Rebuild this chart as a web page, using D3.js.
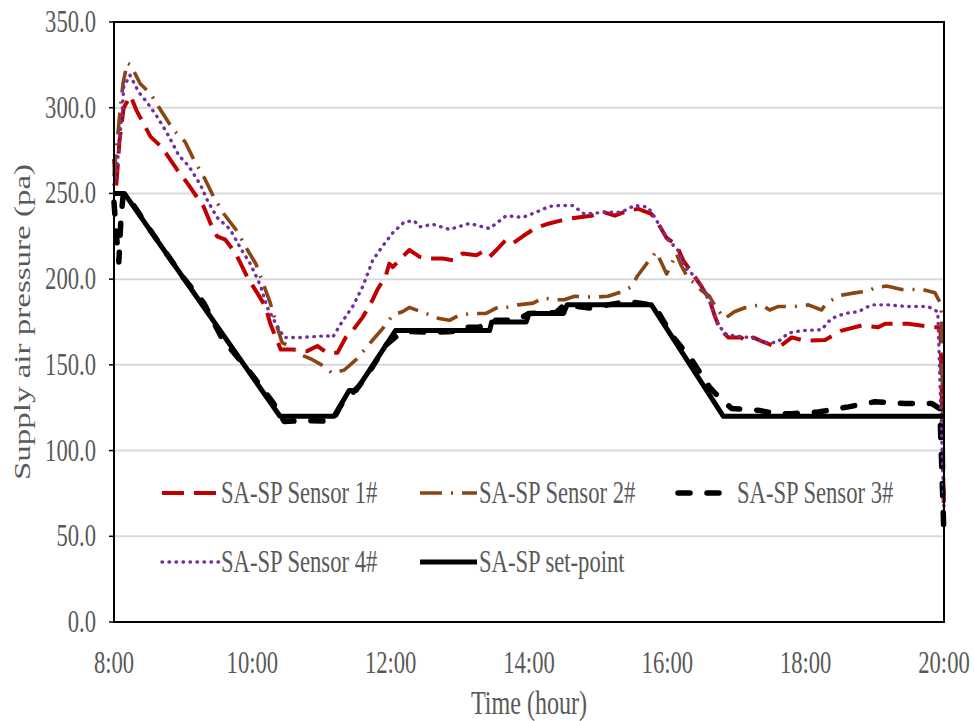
<!DOCTYPE html>
<html>
<head>
<meta charset="utf-8">
<script src="https://cdn.jsdelivr.net/npm/d3@7"></script>
<style>
  html, body { margin: 0; padding: 0; background: #ffffff; }
  svg { display: block; }
</style>
</head>
<body>
<svg id="chart" width="975" height="721"></svg>
<script>
// ---------------- DATA ----------------
const xTickHours = [8, 10, 12, 14, 16, 18, 20];
const xTickLabels = ["8:00", "10:00", "12:00", "14:00", "16:00", "18:00", "20:00"];
const yTicks = [0, 50, 100, 150, 200, 250, 300, 350];

const seriesNames = ["SA-SP Sensor 1#", "SA-SP Sensor 2#", "SA-SP Sensor 3#", "SA-SP Sensor 4#", "SA-SP set-point"];

const s1Time = [8.0, 8.03, 8.08, 8.14, 8.24, 8.33, 8.53, 8.69, 8.91, 9.06, 9.3, 9.39, 9.49, 9.61, 9.76, 9.93, 10.07, 10.19, 10.26, 10.36, 10.41, 10.58, 10.79, 10.94, 11.08, 11.23, 11.35, 11.45, 11.6, 11.74, 11.81, 11.93, 11.98, 12.03, 12.1, 12.27, 12.42, 12.51, 12.75, 12.9, 13.04, 13.24, 13.33, 13.43, 13.53, 13.67, 13.77, 13.91, 14.1, 14.25, 14.44, 14.61, 14.9, 15.09, 15.24, 15.43, 15.58, 15.77, 15.86, 15.99, 16.13, 16.23, 16.35, 16.49, 16.61, 16.69, 16.76, 16.88, 17.07, 17.14, 17.24, 17.38, 17.51, 17.65, 17.8, 17.99, 18.28, 18.52, 18.81, 19.05, 19.15, 19.48, 19.82, 19.95, 20.0];
const s1Val = [270, 253, 281, 300, 307, 298, 283, 277, 264, 256, 242, 233, 225, 223, 215, 201, 192, 184, 174, 164, 159, 159, 158, 161, 157, 157, 166, 170, 178, 188, 194, 202, 209, 207, 210, 217, 213, 212, 212, 211, 215, 214, 216, 213, 217, 223, 221, 225, 230, 232, 234, 235.5, 237, 239, 237, 240, 241, 238, 233, 224, 220, 211, 204, 196, 188, 178, 171, 166, 166, 163.5, 166, 163.5, 161.5, 161.5, 166, 164, 164.5, 170, 173, 172, 174, 174, 172, 172, 60];

const s2Time = [8.0, 8.03, 8.09, 8.13, 8.19, 8.24, 8.38, 8.53, 8.67, 8.86, 9.03, 9.15, 9.32, 9.44, 9.59, 9.78, 9.93, 10.05, 10.17, 10.26, 10.36, 10.43, 10.53, 10.7, 10.87, 11.0, 11.16, 11.33, 11.5, 11.74, 11.88, 12.03, 12.17, 12.27, 12.51, 12.7, 12.85, 12.99, 13.19, 13.38, 13.57, 13.67, 13.84, 14.06, 14.2, 14.39, 14.51, 14.66, 14.95, 15.14, 15.33, 15.48, 15.57, 15.72, 15.84, 15.91, 15.99, 16.03, 16.13, 16.2, 16.3, 16.4, 16.49, 16.61, 16.71, 16.83, 16.97, 17.17, 17.36, 17.48, 17.6, 17.84, 18.04, 18.23, 18.3, 18.49, 18.71, 18.9, 19.0, 19.17, 19.39, 19.68, 19.87, 19.96, 20.0];
const s2Val = [260, 274, 299, 314, 326, 325, 314, 308, 299, 287, 280, 270, 258, 248, 238, 228, 217, 209, 196, 186, 172, 163, 161, 156, 153, 150, 145, 147, 153, 164.5, 171, 179, 181, 183.5, 180, 177, 176, 179, 180, 180, 184, 183.5, 185, 186, 189, 188, 188, 190, 189.5, 190, 192.5, 195.5, 202, 210, 216, 210, 203, 206, 215, 208, 200.5, 197.5, 193.5, 190, 183, 177, 181, 184, 185, 182, 184, 184, 185, 182, 186, 190.5, 192, 193, 195, 196, 194, 194, 192, 185, 70];

const s3Time = [8.0, 8.03, 8.07, 8.1, 8.13, 8.17, 8.5, 9.0, 9.3, 9.56, 10.0, 10.3, 10.46, 10.79, 11.16, 11.26, 11.3, 11.55, 11.74, 11.93, 12.08, 12.27, 12.56, 12.9, 12.99, 13.28, 13.48, 13.82, 14.0, 14.39, 14.51, 14.9, 15.14, 15.43, 15.77, 15.82, 16.08, 16.35, 16.61, 16.69, 16.93, 17.31, 17.6, 17.8, 18.18, 18.62, 19.0, 19.44, 19.82, 19.94, 20.0];
const s3Val = [245, 228, 210, 235, 248, 250, 230, 201, 186, 165.5, 144, 128, 117, 117.5, 117, 125, 127.5, 138, 149, 161.5, 166.5, 169.5, 169, 169.5, 172, 172, 176, 176, 180, 180.5, 185, 183, 185, 187, 185, 184, 166.5, 153, 137, 133.5, 124.5, 123.5, 121.5, 121.5, 122.5, 125.5, 128.5, 127.5, 127.5, 124.5, 50];

const s4Time = [8.0, 8.04, 8.08, 8.12, 8.14, 8.23, 8.36, 8.48, 8.62, 8.77, 8.94, 9.08, 9.25, 9.35, 9.49, 9.68, 9.83, 9.97, 10.12, 10.21, 10.34, 10.46, 10.7, 11.08, 11.16, 11.28, 11.45, 11.6, 11.74, 11.88, 12.03, 12.2, 12.34, 12.42, 12.61, 12.85, 13.14, 13.43, 13.67, 13.91, 14.1, 14.3, 14.45, 14.63, 14.8, 15.09, 15.33, 15.53, 15.72, 15.82, 15.91, 16.01, 16.15, 16.25, 16.4, 16.54, 16.64, 16.74, 16.86, 17.07, 17.26, 17.46, 17.6, 17.75, 17.94, 18.23, 18.37, 18.57, 18.76, 18.95, 19.19, 19.48, 19.77, 19.91, 20.0];
const s4Val = [255, 264, 281, 299, 312, 319, 309, 303, 295, 285, 272, 266, 255, 246, 236, 229, 218, 209, 196, 184, 174, 166, 166, 167, 166, 174, 184, 196, 211, 219, 227, 233.5, 234, 230.5, 232, 229, 232.5, 229.5, 237, 236, 239, 242.5, 243, 243, 238, 239, 239, 243, 242, 236, 229.5, 223, 217, 207, 201.5, 192.5, 184, 173, 167.5, 166.5, 165.5, 162.5, 163.5, 168.5, 170, 170.5, 177, 180, 181, 185, 185, 184, 184, 181, 65];

const spTime = [8.0, 8.15, 10.4, 11.18, 11.4, 11.5, 12.07, 13.43, 13.46, 13.96, 14.0, 14.5, 14.55, 15.77, 16.81, 20.0];
const spVal = [250, 250, 120, 120, 135, 135, 170, 170, 175, 175, 180, 180, 185, 185, 120, 120];

// ---------------- STYLES ----------------
const styles = [
  { color: "#C00000", width: 4, dash: "22,10", cap: "butt" },
  { color: "#8B4513", width: 3.6, dash: "22,9,2,9", cap: "butt" },
  { color: "#000000", width: 5.5, dash: "12,17", cap: "round" },
  { color: "#7030A0", width: 3.4, dash: "0.5,6.5", cap: "round" },
  { color: "#000000", width: 5, dash: null, cap: "butt" }
];

// ---------------- CHART ----------------
const svg = d3.select("#chart");
const L = 114, R = 944, T = 22, B = 622;
const x = d3.scaleLinear().domain([8, 20]).range([L, R]);
const y = d3.scaleLinear().domain([0, 350]).range([B, T]);

const FONT = "'Liberation Serif', 'Times New Roman', serif";
const TXT = "#595959";
const SX = 0.73;

// gridlines
svg.append("g").selectAll("line").data(yTicks.filter(v => v > 0 && v < 350)).join("line")
  .attr("x1", L).attr("x2", R)
  .attr("y1", d => y(d)).attr("y2", d => y(d))
  .attr("stroke", "#D9D9D9").attr("stroke-width", 2);

// y tick marks
svg.append("g").selectAll("line").data(yTicks).join("line")
  .attr("x1", L - 5).attr("x2", L)
  .attr("y1", d => y(d)).attr("y2", d => y(d))
  .attr("stroke", "#000").attr("stroke-width", 1.5);

// y tick labels
const fmt = d3.format(".1f");
svg.append("g").selectAll("text").data(yTicks).join("text")
  .attr("transform", d => `translate(96,${y(d) + 10}) scale(${SX},1)`)
  .attr("text-anchor", "end")
  .attr("font-family", FONT).attr("font-size", 31).attr("fill", TXT)
  .text(d => fmt(d));

// x tick labels
svg.append("g").selectAll("text").data(xTickHours).join("text")
  .attr("transform", d => `translate(${x(d)},673) scale(${SX},1)`)
  .attr("text-anchor", "middle")
  .attr("font-family", FONT).attr("font-size", 31).attr("fill", TXT)
  .text((d, i) => xTickLabels[i]);

// axis titles
svg.append("text")
  .attr("transform", `translate(${(L + R) / 2},714) scale(${SX},1)`)
  .attr("text-anchor", "middle")
  .attr("font-family", FONT).attr("font-size", 33).attr("fill", TXT)
  .text("Time (hour)");
svg.append("text")
  .attr("transform", `translate(30,${(T + B) / 2}) rotate(-90) scale(1,${SX})`)
  .attr("text-anchor", "middle")
  .attr("font-family", FONT).attr("font-size", 33).attr("fill", TXT)
  .text("Supply air pressure (pa)");

// series
const allSeries = [
  d3.zip(s1Time, s1Val),
  d3.zip(s2Time, s2Val),
  d3.zip(s3Time, s3Val),
  d3.zip(s4Time, s4Val),
  d3.zip(spTime, spVal)
];
const line = d3.line().x(d => x(d[0])).y(d => y(d[1]));
allSeries.forEach((data, i) => {
  const st = styles[i];
  const p = svg.append("path").datum(data)
    .attr("d", line)
    .attr("fill", "none")
    .attr("stroke", st.color)
    .attr("stroke-width", st.width)
    .attr("stroke-linecap", st.cap)
    .attr("stroke-linejoin", "round");
  if (st.dash) p.attr("stroke-dasharray", st.dash);
});

// frame
svg.append("rect")
  .attr("x", L).attr("y", T).attr("width", R - L).attr("height", B - T)
  .attr("fill", "none").attr("stroke", "#000").attr("stroke-width", 2);

// legend
const legendPos = [
  { x: 162, y: 493 }, { x: 420, y: 493 }, { x: 678, y: 493 },
  { x: 162, y: 562 }, { x: 420, y: 562 }
];
const lg = svg.append("g");
seriesNames.forEach((name, i) => {
  const st = styles[i];
  const pos = legendPos[i];
  const ln = lg.append("line")
    .attr("x1", pos.x).attr("x2", pos.x + 57)
    .attr("y1", pos.y).attr("y2", pos.y)
    .attr("stroke", st.color).attr("stroke-width", st.width)
    .attr("stroke-linecap", st.cap);
  if (st.dash) ln.attr("stroke-dasharray", st.dash);
  lg.append("text")
    .attr("transform", `translate(${pos.x + 59},${pos.y + 10}) scale(${SX},1)`)
    .attr("font-family", FONT).attr("font-size", 31).attr("fill", TXT)
    .text(name);
});
</script>
</body>
</html>
